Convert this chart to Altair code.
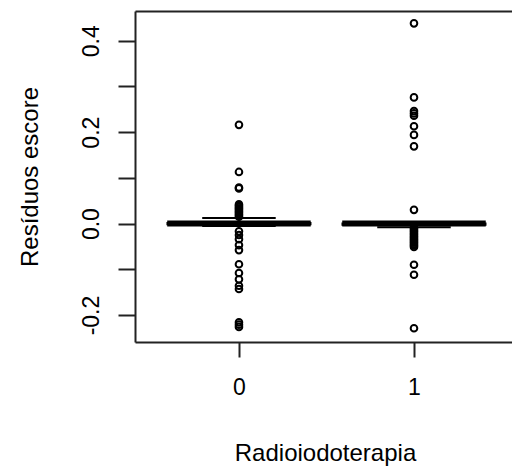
import altair as alt
import pandas as pd

# ---- data ----
groups = [0, 1]
q1 = [-0.002, -0.003]
median = [0.0, 0.0]
q3 = [0.002, 0.001]
whisk_lo = [-0.005, -0.008]
whisk_hi = [0.012, 0.002]

out_g0 = [0.216, 0.113, 0.079, 0.077,
          0.042, 0.039, 0.036, 0.033, 0.030, 0.027, 0.024, 0.021, 0.018, 0.015,
          -0.017, -0.025, -0.034, -0.047, -0.058,
          -0.089, -0.108, -0.122, -0.136, -0.143,
          -0.216, -0.221, -0.226]
out_g1 = [0.438, 0.276, 0.246, 0.241, 0.236, 0.213, 0.194, 0.169, 0.030,
          -0.009, -0.012, -0.015, -0.018, -0.021, -0.024, -0.027, -0.030,
          -0.033, -0.036, -0.039, -0.042, -0.045, -0.048, -0.051,
          -0.090, -0.112, -0.229]

y_ticks = [-0.2, -0.1, 0.0, 0.1, 0.2, 0.3, 0.4]
x_ticks = [0, 1]
x_title = "Radioiodoterapia"
y_title = "Resíduos escore"

stats = pd.DataFrame({"g": groups, "q1": q1, "med": median, "q3": q3,
                      "lo": whisk_lo, "hi": whisk_hi})
outs = pd.DataFrame({"g": [0] * len(out_g0) + [1] * len(out_g1),
                     "v": out_g0 + out_g1})

FONT = "Liberation Sans"
xscale = alt.Scale(domain=[-0.594, 1.56], nice=False, zero=False)
yscale = alt.Scale(domain=[-0.259, 0.465], nice=False, zero=False)

x_axis = alt.Axis(values=x_ticks, title=x_title, grid=False,
                  domainColor="#222", domainWidth=2, tickColor="#222",
                  tickWidth=2, tickSize=15, labelFontSize=23, labelFont=FONT,
                  labelColor="black", labelPadding=19, labelAngle=0,
                  titleFont=FONT, titleFontSize=24, titleFontWeight="normal",
                  titleColor="black", titleX=190, titleY=118,
                  titleBaseline="alphabetic")
top_axis = alt.Axis(orient="top", title=None, labels=False, ticks=False,
                    grid=False, domainColor="#222", domainWidth=2)
y_axis = alt.Axis(orient="left", values=y_ticks, title=y_title, grid=False,
                  domainColor="#222", domainWidth=2, tickColor="#222",
                  tickWidth=2, tickSize=17, labelFontSize=23, labelFont=FONT,
                  labelColor="black", labelAngle=270, labelAlign="center",
                  labelBaseline="alphabetic", labelPadding=20,
                  labelOverlap=False, labelFlush=False,
                  labelExpr="abs(round(datum.value*10)) % 2 == 0 ? "
                            "((datum.value < -0.0001 ? '-' : '') + format(abs(datum.value), '.1f')) : ''",
                  titleFont=FONT, titleFontSize=24, titleFontWeight="normal",
                  titleColor="black", titleAngle=270, titleX=-98,
                  titleBaseline="alphabetic")

base = alt.Chart(stats).transform_calculate(
    xl="datum.g - 0.41", xr="datum.g + 0.41",
    sl="datum.g - 0.21", sr="datum.g + 0.21")

box = base.mark_rect(fill="white", stroke="black", strokeWidth=1.5).encode(
    x=alt.X("xl:Q", scale=xscale, axis=x_axis),
    x2="xr:Q",
    y=alt.Y("q1:Q", scale=yscale, axis=y_axis),
    y2="q3:Q")

whisk_up = base.mark_rule(color="black", strokeWidth=1.5, strokeDash=[4, 3]).encode(
    x=alt.X("g:Q", scale=xscale, axis=None),
    y=alt.Y("q3:Q", scale=yscale, axis=None), y2="hi:Q")
whisk_dn = base.mark_rule(color="black", strokeWidth=1.5, strokeDash=[4, 3]).encode(
    x=alt.X("g:Q", scale=xscale, axis=None),
    y=alt.Y("lo:Q", scale=yscale, axis=None), y2="q1:Q")

staple_hi = base.mark_rule(color="black", strokeWidth=2).encode(
    x=alt.X("sl:Q", scale=xscale, axis=top_axis), x2="sr:Q",
    y=alt.Y("hi:Q", scale=yscale, axis=None))
staple_lo = base.mark_rule(color="black", strokeWidth=2).encode(
    x=alt.X("sl:Q", scale=xscale, axis=None), x2="sr:Q",
    y=alt.Y("lo:Q", scale=yscale, axis=None))

med_line = base.mark_rule(color="black", strokeWidth=6, strokeCap="butt").encode(
    x=alt.X("xl:Q", scale=xscale, axis=None), x2="xr:Q",
    y=alt.Y("med:Q", scale=yscale, axis=None))

points = alt.Chart(outs).mark_point(shape="circle", filled=False, color="black",
                                     size=44, strokeWidth=2, opacity=1).encode(
    x=alt.X("g:Q", scale=xscale, axis=None),
    y=alt.Y("v:Q", scale=yscale, axis=None))

chart = alt.layer(box, whisk_up, whisk_dn, staple_hi, staple_lo, med_line, points).resolve_axis(
    x="independent", y="independent"
).properties(
    width=377, height=331,
    autosize=alt.AutoSizeParams(type="none"),
    padding={"left": 135, "top": 11, "right": 0, "bottom": 126},
    background="white",
).configure_view(stroke=None)

chart.save("out.html", embed_options={"renderer": "svg", "actions": False})
